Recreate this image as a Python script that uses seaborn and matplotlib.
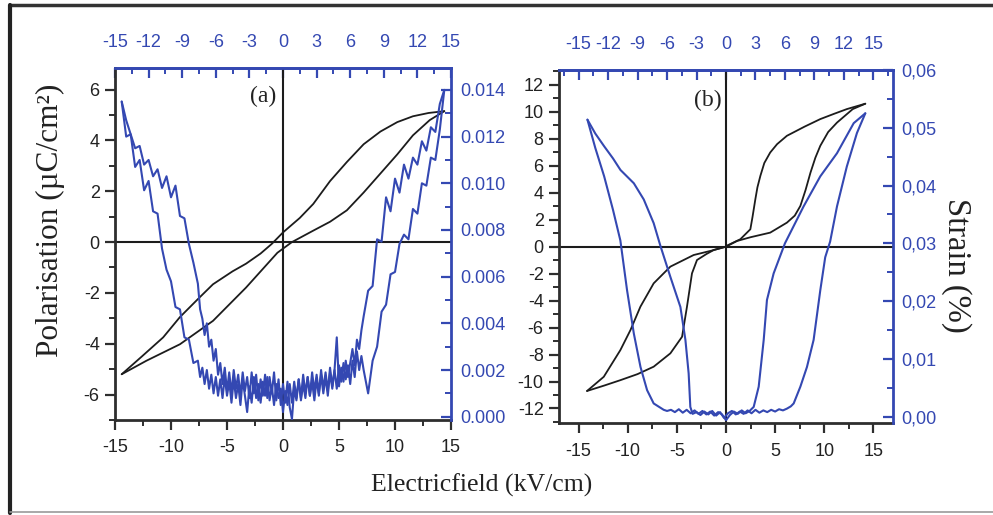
import numpy as np
import pandas as pd
import matplotlib
matplotlib.use("Agg")
import matplotlib.pyplot as plt
import seaborn as sns
from matplotlib.ticker import MultipleLocator, FuncFormatter
from matplotlib.lines import Line2D

# ---------------- data ----------------
# Panel (a): P-E loop
pe_a_up_E = [-14.4, -12.6, -10.7, -9.2, -7.5, -6.25, -4.5, -3.3, -2.0, -1.0, 0.0, 1.5, 2.7, 4.2, 5.7, 7.2, 8.7, 10.2, 11.6, 13.0, 14.4]
pe_a_up_P = [-5.2, -4.5, -3.75, -2.95, -2.2, -1.66, -1.15, -0.85, -0.45, -0.07, 0.38, 0.95, 1.5, 2.4, 3.15, 3.85, 4.35, 4.72, 4.95, 5.08, 5.15]
pe_a_lo_E = [-14.4, -12.2, -9.2, -6.25, -3.3, -0.5, 0.8, 2.7, 4.2, 5.7, 7.2, 8.7, 10.2, 11.6, 13.1, 14.4]
pe_a_lo_P = [-5.2, -4.67, -4.02, -3.1, -1.79, -0.42, 0.0, 0.45, 0.8, 1.25, 1.95, 2.7, 3.45, 4.2, 4.8, 5.15]

# Panel (a): strain butterfly (noisy), two branches on a common field grid
strain_a_E = [-14.4, -14.0, -13.6, -13.2, -12.8, -12.4, -12.0, -11.6, -11.2, -10.8,
              -10.4, -10.0, -9.6, -9.2, -8.8, -8.4, -8.0, -7.6,
              -7.4, -7.2, -7.0, -6.8, -6.6, -6.4, -6.2, -6.0, -5.8, -5.6,
              -5.4, -5.2, -5.0, -4.8, -4.6, -4.4, -4.2, -4.0, -3.8, -3.6,
              -3.4, -3.2, -3.0, -2.8, -2.6, -2.4, -2.2, -2.0, -1.8, -1.6,
              -1.4, -1.2, -1.0, -0.8, -0.6, -0.4, -0.2, 0.0, 0.2, 0.4,
              0.6, 0.8, 1.0, 1.2, 1.4, 1.6, 1.8, 2.0, 2.2, 2.4,
              2.6, 2.8, 3.0, 3.2, 3.4, 3.6, 3.8, 4.0, 4.2, 4.4,
              4.6, 4.8, 5.0, 5.2, 5.4, 5.6, 5.8, 6.0, 6.2, 6.4,
              6.6, 6.8, 7.0,
              7.2, 7.6, 8.0, 8.4, 8.8, 9.2, 9.6, 10.0, 10.4, 10.8,
              11.2, 11.6, 12.0, 12.4, 12.8, 13.2, 13.6, 14.0, 14.4]
strain_a_up = [0.0135, 0.0120, 0.0121, 0.0107, 0.0110, 0.0097, 0.0101, 0.0088, 0.0087, 0.0072,
               0.0063, 0.0058, 0.0047, 0.0046, 0.0034, 0.0033, 0.0023, 0.0024,
               0.0017, 0.0021, 0.0014, 0.0020, 0.0012, 0.0018, 0.0010, 0.0017, 0.0009, 0.0016,
               0.0008, 0.0017, 0.0009, 0.0015, 0.0006, 0.0016, 0.0008, 0.0014, 0.0005, 0.0016,
               0.0009, 0.0002, 0.0013, 0.0006, 0.0017, 0.0008, 0.0014, 0.0006, 0.0015, 0.0009,
               0.0017, 0.0007, 0.0013, 0.0005, 0.0014, 0.0008, 0.0012, 0.0002, 0.0011, 0.0005,
               0.0014, 0.0006, 0.0015, 0.0008, 0.0016, 0.0007, 0.0014, 0.0008, 0.0017, 0.0009,
               0.0015, 0.0007, 0.0016, 0.0009, 0.0018, 0.0010, 0.0017, 0.0009, 0.0019, 0.0012,
               0.0020, 0.0034, 0.0013, 0.0021, 0.0015, 0.0024, 0.0017, 0.0023, 0.0029, 0.0022,
               0.0033, 0.0029, 0.0037,
               0.0043, 0.0054, 0.0056, 0.0076, 0.0075, 0.0094, 0.0088, 0.0102, 0.0096, 0.0108,
               0.0102, 0.0111, 0.0108, 0.0118, 0.0114, 0.0124, 0.0122, 0.0134, 0.0140]
strain_a_down = [0.0135, 0.0127, 0.0121, 0.0115, 0.0116, 0.0108, 0.0110, 0.0103, 0.0106, 0.0098,
                 0.0103, 0.0094, 0.0099, 0.0086, 0.0085, 0.0074, 0.0066, 0.0057,
                 0.0046, 0.0042, 0.0035, 0.0040, 0.0030, 0.0033, 0.0024, 0.0029, 0.0018, 0.0023,
                 0.0014, 0.0021, 0.0011, 0.0019, 0.0010, 0.0020, 0.0012, 0.0018, 0.0009, 0.0019,
                 0.0011, 0.0017, 0.0008, 0.0019, 0.0010, 0.0018, 0.0007, 0.0016, 0.0009, 0.0018,
                 0.0008, 0.0017, 0.0010, 0.0019, 0.0007, 0.0016, 0.0005, 0.0014, 0.0006, 0.0015,
                 0.0004, -0.0001, 0.0012, 0.0007, 0.0016, 0.0008, 0.0018, 0.0010, 0.0017, 0.0009,
                 0.0019, 0.0011, 0.0018, 0.0010, 0.0020, 0.0012, 0.0019, 0.0011, 0.0021, 0.0013,
                 0.0020, 0.0012, 0.0022, 0.0015, 0.0023, 0.0016, 0.0022, 0.0014, 0.0024, 0.0017,
                 0.0028, 0.0020, 0.0026,
                 0.0020, 0.0010, 0.0024, 0.0030, 0.0045, 0.0048, 0.0061, 0.0062, 0.0074, 0.0078,
                 0.0076, 0.0089, 0.0087, 0.0100, 0.0099, 0.0111, 0.0110, 0.0123, 0.0140]

# Panel (b): P-E double loop
pe_b_a_E = [-14.14, -12.4, -10.75, -9.0, -7.36, -5.66, -4.47, -3.97, -3.46, -2.95, -2.0, -1.25, 0.0,
            1.12, 2.5, 4.5, 6.2, 7.0, 7.57, 8.1, 8.6, 9.1, 9.6, 10.4, 11.3, 12.9, 14.18]
pe_b_a_P = [-10.7, -10.3, -9.9, -9.45, -8.9, -7.91, -6.68, -4.45, -1.98, -0.99, -0.55, -0.25, 0.0,
            0.42, 0.7, 1.04, 1.78, 2.3, 3.02, 4.2, 5.49, 6.6, 7.48, 8.5, 9.2, 10.2, 10.6]
pe_b_b_E = [14.18, 12.3, 11.0, 9.6, 8.0, 6.2, 5.2, 4.5, 3.9, 3.5, 3.2, 2.99, 2.7, 2.48, 1.46, 0.17, 0.0,
            -1.5, -3.29, -5.66, -7.36, -8.71, -9.72, -10.75, -12.44, -14.14]
pe_b_b_P = [10.6, 10.2, 9.85, 9.46, 8.9, 8.22, 7.6, 6.98, 6.2, 5.25, 4.4, 3.52, 2.2, 1.29, 0.55, 0.1, 0.0,
            -0.3, -0.62, -1.48, -2.72, -4.45, -6.18, -7.67, -9.65, -10.7]

# Panel (b): strain butterfly
strain_b_a_E = [-14.1, -13.3, -12.4, -11.5, -10.74, -9.38, -8.37, -7.36, -6.68, -5.66, -4.64, -4.13, -3.8,
                -3.63, -3.4, -3.0, -2.6, -2.2, -1.8, -1.4, -1.0, -0.6, -0.2, 0.2, 0.6, 1.0, 1.4, 1.8,
                2.2, 2.6, 3.0, 3.4, 3.8, 4.2, 4.6, 5.0, 5.4, 5.8, 6.2, 6.6, 6.89, 7.57, 8.24, 8.92,
                9.6, 10.1, 10.6, 11.3, 12.3, 13.33, 14.18]
strain_b_a = [0.0514, 0.0490, 0.0468, 0.0447, 0.0427, 0.0404, 0.0376, 0.0335, 0.0296, 0.0242, 0.0190, 0.0133, 0.0075,
              0.0017, 0.0005, 0.0008, 0.0003, 0.0009, 0.0004, 0.0010, 0.0002, 0.0008, -0.0002, 0.0006, 0.0010, 0.0004, 0.0009, 0.0005,
              0.0011, 0.0006, 0.0012, 0.0007, 0.0011, 0.0008, 0.0012, 0.0009, 0.0013, 0.0011, 0.0014, 0.0018, 0.0023, 0.0052, 0.0086, 0.0133,
              0.0219, 0.0276, 0.0303, 0.0364, 0.0433, 0.0491, 0.0525]
strain_b_b_E = [14.18, 13.0, 11.3, 9.6, 7.9, 6.0, 4.85, 4.17, 3.84, 3.33, 2.82, 2.4, 2.0, 1.6, 1.2, 0.8, 0.4,
                0.0, -0.4, -0.8, -1.2, -1.6, -2.0, -2.4, -2.8, -3.2, -3.6, -4.0, -4.4, -4.8, -5.2, -5.6,
                -6.0, -6.34, -7.36, -8.03, -8.7, -9.38, -10.07, -10.75, -11.5, -12.4, -13.3, -14.1]
strain_b_b = [0.0525, 0.0508, 0.0456, 0.0416, 0.0364, 0.0300, 0.0248, 0.0202, 0.0133, 0.0052, 0.0017, 0.0010, 0.0006, 0.0011, 0.0005, 0.0009, 0.0003,
              -0.0006, 0.0004, 0.0008, 0.0002, 0.0009, 0.0004, 0.0010, 0.0005, 0.0011, 0.0006, 0.0012, 0.0007, 0.0013, 0.0008, 0.0012,
              0.0010, 0.0012, 0.0023, 0.0046, 0.0086, 0.0144, 0.0219, 0.0305, 0.0358, 0.0416, 0.0465, 0.0514]

ticks_bottom = [-15, -10, -5, 0, 5, 10, 15]
ticks_top = [-15, -12, -9, -6, -3, 0, 3, 6, 9, 12, 15]

# ---------------- style ----------------
sns.set_theme(style="white")
plt.rcParams['font.family'] = ['Liberation Sans', 'DejaVu Sans']
plt.rcParams['axes.unicode_minus'] = False

BLUE = "#3448b2"
BLACK = "#1c1c1c"
SPINE = "#2e2e2e"
SERIF = ['Liberation Serif', 'DejaVu Serif']
TICKFS = 13

fig = plt.figure(figsize=(9.93, 5.15), dpi=100)
axA = fig.add_axes([0.1158, 0.1845, 0.3384, 0.6835])
axB = fig.add_axes([0.5629, 0.1780, 0.3364, 0.6861])


def draw_pe(ax, branches):
    for E, P in branches:
        sns.lineplot(x=E, y=P, ax=ax, sort=False, estimator=None, color=BLACK,
                     lw=1.3, legend=False)


def draw_strain(tw, branches, lw):
    for E, S in branches:
        sns.lineplot(x=E, y=S, ax=tw, sort=False, estimator=None, color=BLUE,
                     lw=lw, legend=False)


def style(ax, tw, xlim, ylim, ymaj, ymin, slim, smaj, smin, sfmt, rpad):
    ax.set_xlim(*xlim)
    ax.set_ylim(*ylim)
    ax.set_xticks(ticks_bottom)
    ax.xaxis.set_minor_locator(MultipleLocator(2.5))
    ax.yaxis.set_major_locator(MultipleLocator(ymaj))
    ax.yaxis.set_minor_locator(MultipleLocator(ymin))
    ax.tick_params(axis='both', which='major', direction='out', length=7, width=1.6,
                   color=SPINE, labelsize=TICKFS, labelcolor='#222222', pad=4,
                   bottom=True, left=True, top=False, right=False)
    ax.tick_params(axis='x', which='major', pad=7)
    ax.tick_params(axis='both', which='minor', direction='out', length=4, width=1.4,
                   color=SPINE, bottom=True, left=True, top=False, right=False)
    ax.set_xlabel('')
    ax.set_ylabel('')
    ax.axhline(0, color=BLACK, lw=1.5, zorder=1)
    ax.axvline(0, color=BLACK, lw=1.5, zorder=1)
    for s in ['left', 'bottom']:
        ax.spines[s].set_color(SPINE)
        ax.spines[s].set_linewidth(2)
    ax.spines['top'].set_color(BLUE)
    ax.spines['top'].set_linewidth(2)
    ax.spines['right'].set_visible(False)

    tw.set_ylim(*slim)
    tw.yaxis.set_major_locator(MultipleLocator(smaj))
    tw.yaxis.set_minor_locator(MultipleLocator(smin))
    tw.yaxis.set_major_formatter(FuncFormatter(sfmt))
    tw.tick_params(axis='y', which='major', direction='in', length=7, width=1.6,
                   color=BLUE, labelcolor=BLUE, labelsize=TICKFS, pad=rpad)
    tw.tick_params(axis='y', which='minor', direction='in', length=4, width=1.4, color=BLUE)
    tw.set_ylabel('')
    for s in ['left', 'bottom', 'top']:
        tw.spines[s].set_visible(False)
    tw.spines['right'].set_color(BLUE)
    tw.spines['right'].set_linewidth(2)

    sec = ax.secondary_xaxis('top')
    sec.set_xticks(ticks_top)
    sec.xaxis.set_minor_locator(MultipleLocator(1.5))
    sec.tick_params(axis='x', which='major', direction='in', length=7, width=1.6,
                    color=BLUE, labelcolor=BLUE, labelsize=TICKFS, pad=12)
    sec.tick_params(axis='x', which='minor', direction='in', length=4, width=1.4, color=BLUE)
    sec.spines['top'].set_color(BLUE)
    sec.spines['top'].set_linewidth(2)


# panel (a)
draw_pe(axA, [(pe_a_up_E, pe_a_up_P), (pe_a_lo_E, pe_a_lo_P)])
twA = axA.twinx()
draw_strain(twA, [(strain_a_E, strain_a_up), (strain_a_E, strain_a_down)], 1.5)
style(axA, twA, (-15, 15), (-7.0, 6.85), 2, 1, (-0.00014, 0.01494), 0.002, 0.001,
      lambda v, p: f"{v:.3f}", 7)

# panel (b)
draw_pe(axB, [(pe_b_a_E, pe_b_a_P), (pe_b_b_E, pe_b_b_P)])
twB = axB.twinx()
draw_strain(twB, [(strain_b_a_E, strain_b_a), (strain_b_b_E, strain_b_b)], 1.5)
style(axB, twB, (-17, 17), (-13.1, 13.1), 2, 1, (-0.00114, 0.06), 0.01, 0.005,
      lambda v, p: f"{v:.2f}".replace('.', ','), 6)

axA.text(0.44, 0.918, '(a)', transform=axA.transAxes, ha='center', va='center',
         fontsize=17, family=SERIF, color='#222222')
axB.text(0.446, 0.915, '(b)', transform=axB.transAxes, ha='center', va='center',
         fontsize=17, family=SERIF, color='#222222')

# axis titles
fig.text(0.485, 0.058, 'Electricfield (kV/cm)', ha='center', va='center',
         fontsize=18.5, family=SERIF, color='#222222')
fig.text(0.051, 0.572, 'Polarisation (µC/cm²)', ha='center', va='center', rotation=90,
         fontsize=22.5, family=SERIF, color='#222222')
fig.text(0.963, 0.485, 'Strain (%)', ha='center', va='center', rotation=270,
         fontsize=23.5, family=SERIF, color='#222222')

# outer frame of the figure image
fig.add_artist(Line2D([0.0101, 1.0], [0.9903, 0.9903], transform=fig.transFigure,
                      color='#333333', lw=2.5))
fig.add_artist(Line2D([0.0101, 0.0101], [0.004, 0.9903], transform=fig.transFigure,
                      color='#222222', lw=3))
fig.add_artist(Line2D([0.0101, 1.0], [0.005, 0.005], transform=fig.transFigure,
                      color='#999999', lw=1.2))

fig.savefig('out.png', dpi=100)
